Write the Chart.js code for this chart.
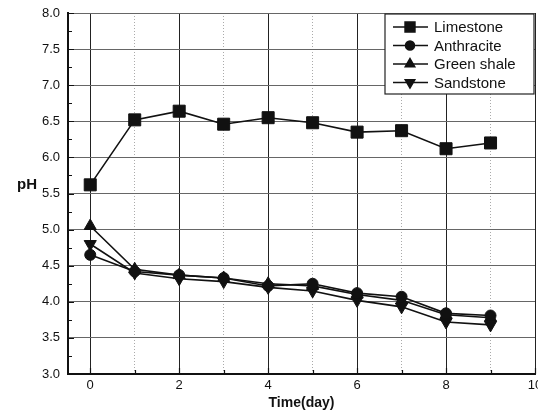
<!DOCTYPE html>
<html>
<head>
<meta charset="utf-8">
<script src="https://cdn.jsdelivr.net/npm/chart.js@4"></script>
<style>
  html, body { margin: 0; padding: 0; background: #fff; }
  #wrap { width: 538px; height: 412px; position: relative; }
</style>
</head>
<body>
<div id="wrap"><canvas id="c"></canvas></div>
<script>
  var days = [0, 1, 2, 3, 4, 5, 6, 7, 8, 9];
  var limestone   = [5.62, 6.52, 6.64, 6.46, 6.55, 6.48, 6.35, 6.37, 6.12, 6.20];
  var anthracite  = [4.65, 4.42, 4.37, 4.33, 4.22, 4.25, 4.12, 4.07, 3.84, 3.81];
  var greenShale  = [5.05, 4.45, 4.37, 4.33, 4.25, 4.22, 4.10, 4.02, 3.82, 3.78];
  var sandstone   = [4.80, 4.40, 4.32, 4.28, 4.20, 4.15, 4.02, 3.93, 3.72, 3.68];
  var xTicks = [0, 1, 2, 3, 4, 5, 6, 7, 8, 9, 10];
  var yTicks = [3.0, 3.25, 3.5, 3.75, 4.0, 4.25, 4.5, 4.75, 5.0, 5.25, 5.5, 5.75,
                6.0, 6.25, 6.5, 6.75, 7.0, 7.25, 7.5, 7.75, 8.0];

  var FONT = "'Liberation Sans', Arial, sans-serif";

  function pts(ys) {
    return days.map(function(d, i) { return { x: d, y: ys[i] }; });
  }

  function isHalf(v) {
    return Math.abs(v * 2 - Math.round(v * 2)) < 1e-6;
  }

  function series(label, ys, style, radius, rotation) {
    return {
      label: label,
      data: pts(ys),
      borderColor: '#111',
      backgroundColor: '#111',
      borderWidth: 1.6,
      pointStyle: style,
      pointRadius: radius,
      pointRotation: rotation || 0,
      pointBorderWidth: 1,
      tension: 0
    };
  }

  // inward tick marks, legend box and horizontal "pH" label
  var extras = {
    id: 'extras',
    afterDraw: function(chart) {
      var ctx = chart.ctx, area = chart.chartArea;
      var xs = chart.scales.x, ys = chart.scales.y;
      ctx.save();

      ctx.strokeStyle = '#111';
      ctx.lineWidth = 1.2;
      ctx.beginPath();
      yTicks.forEach(function(v) {
        var py = Math.round(ys.getPixelForValue(v)) + 0.5;
        ctx.moveTo(area.left, py);
        ctx.lineTo(area.left + (isHalf(v) ? 6 : 4), py);
      });
      xTicks.forEach(function(v) {
        var px = Math.round(xs.getPixelForValue(v)) + 0.5;
        ctx.moveTo(px, area.bottom);
        ctx.lineTo(px, area.bottom - (v % 2 === 0 ? 6 : 4));
      });
      ctx.stroke();

      ctx.font = 'bold 15px ' + FONT;
      ctx.fillStyle = '#111';
      ctx.textAlign = 'left';
      ctx.textBaseline = 'middle';
      ctx.fillText('pH', 17, 185);

      var bx = 385, by = area.top + 1, bw = area.right - bx - 1, bh = 80;
      ctx.fillStyle = '#fff';
      ctx.fillRect(bx, by, bw, bh);
      ctx.strokeStyle = '#222';
      ctx.lineWidth = 1.2;
      ctx.strokeRect(bx, by, bw, bh);

      ctx.font = '15px ' + FONT;
      chart.data.datasets.forEach(function(ds, i) {
        var y = by + 13 + i * 18.5;
        ctx.strokeStyle = '#111';
        ctx.lineWidth = 1.5;
        ctx.beginPath();
        ctx.moveTo(393, y);
        ctx.lineTo(428, y);
        ctx.stroke();
        ctx.fillStyle = '#111';
        Chart.helpers.drawPoint(ctx, {
          pointStyle: ds.pointStyle,
          rotation: ds.pointRotation,
          radius: ds.pointStyle === 'rect' ? 7 : (ds.pointStyle === 'circle' ? 4.5 : 5.5),
          borderWidth: 1
        }, 410, y);
        ctx.fillStyle = '#111';
        ctx.fillText(ds.label, 434, y + 1);
      });
      ctx.restore();
    }
  };

  new Chart(document.getElementById('c'), {
    type: 'line',
    plugins: [extras],
    data: {
      datasets: [
        series('Limestone', limestone, 'rect', 8.5),
        series('Anthracite', anthracite, 'circle', 5.5),
        series('Green shale', greenShale, 'triangle', 7),
        series('Sandstone', sandstone, 'triangle', 7, 180)
      ]
    },
    options: {
      responsive: true,
      maintainAspectRatio: false,
      animation: false,
      layout: { autoPadding: false, padding: { left: 0, right: 3, top: 13, bottom: 0 } },
      plugins: { legend: { display: false }, tooltip: { enabled: false } },
      scales: {
        x: {
          type: 'linear',
          min: -0.5,
          max: 10,
          afterBuildTicks: function(scale) {
            scale.ticks = xTicks.map(function(v) { return { value: v }; });
          },
          afterFit: function(scale) {
            scale.height = 38;
            scale.paddingLeft = 0;
            scale.paddingRight = 0;
          },
          ticks: {
            color: '#111',
            font: { family: FONT, size: 13 },
            maxRotation: 0,
            autoSkip: false,
            padding: 4,
            callback: function(v) { return v % 2 === 0 ? String(v) : ''; }
          },
          grid: {
            drawTicks: false,
            color: function(c) {
              if (!c.tick) return '#222';
              return c.tick.value % 2 === 0 ? '#222' : '#aaa';
            },
            lineWidth: 1
          },
          border: {
            color: '#111',
            width: 2,
            dash: function(c) {
              if (!c.tick) return [];
              return c.tick.value % 2 === 0 ? [] : [1, 2];
            }
          },
          title: {
            display: true,
            text: 'Time(day)',
            color: '#111',
            font: { family: FONT, size: 14, weight: 'bold' },
            padding: { top: 0, bottom: 0 }
          }
        },
        y: {
          type: 'linear',
          min: 3,
          max: 8,
          afterBuildTicks: function(scale) {
            scale.ticks = yTicks.map(function(v) { return { value: v }; });
          },
          afterFit: function(scale) {
            scale.width = 68;
            scale.paddingTop = 0;
            scale.paddingBottom = 0;
          },
          ticks: {
            color: '#111',
            font: { family: FONT, size: 13 },
            autoSkip: false,
            padding: 8,
            callback: function(v) { return isHalf(v) ? v.toFixed(1) : ''; }
          },
          grid: {
            drawTicks: false,
            color: function(c) {
              if (!c.tick) return '#666';
              return isHalf(c.tick.value) ? '#666' : 'rgba(0,0,0,0)';
            },
            lineWidth: 1
          },
          border: { color: '#111', width: 2 }
        }
      }
    }
  });
</script>
</body>
</html>
